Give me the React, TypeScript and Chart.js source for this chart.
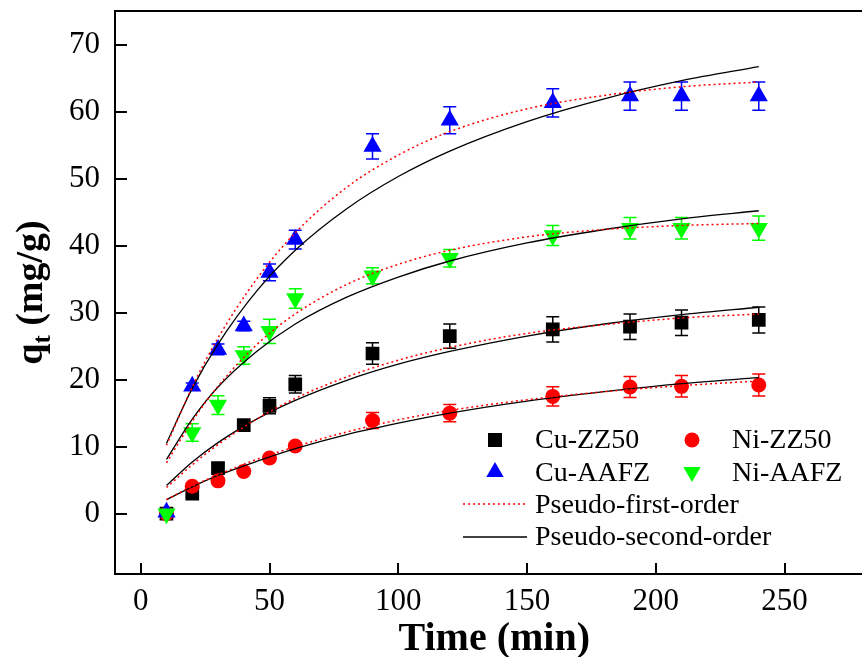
import React, { useEffect, useRef } from 'react';
import { Chart, registerables } from 'chart.js';

Chart.register(...registerables);

// Experimental data (time in min, qt in mg/g)
const TIME = [10, 20, 30, 40, 50, 60, 90, 120, 160, 190, 210, 240];
const CU_ZZ50 = [0, 3.0, 6.8, 13.2, 16.1, 19.3, 23.9, 26.5, 27.5, 27.9, 28.5, 28.9];
const CU_ZZ50_ERR = [0, 0.5, 0.6, 0.6, 1.2, 1.3, 1.6, 1.8, 1.9, 1.9, 1.9, 1.95];
const NI_ZZ50 = [0, 4.1, 4.9, 6.3, 8.3, 10.1, 13.9, 15.0, 17.5, 18.9, 19.0, 19.2];
const NI_ZZ50_ERR = [0, 0.4, 0.4, 0.4, 0.5, 0.5, 1.2, 1.3, 1.45, 1.55, 1.6, 1.65];
const CU_AAFZ = [0.2, 19.0, 24.5, 28.0, 36.0, 40.9, 54.8, 58.7, 61.3, 62.3, 62.3, 62.3];
const CU_AAFZ_ERR = [0, 0.5, 0.8, 0.7, 1.25, 1.4, 1.9, 2.0, 2.1, 2.1, 2.1, 2.1];
const NI_AAFZ = [0, 12.1, 16.2, 23.6, 27.2, 32.1, 35.5, 38.1, 41.5, 42.6, 42.6, 42.6];
const NI_AAFZ_ERR = [0, 1.3, 1.4, 1.3, 1.8, 1.45, 1.2, 1.3, 1.5, 1.6, 1.6, 1.8];

// Fitted curves
const FIT_TIME = [10, 20, 30, 45, 60, 80, 100, 120, 150, 180, 210, 240];
const CU_ZZ50_PFO = [3.9, 7.3, 10.3, 14.1, 17.2, 20.4, 22.9, 24.8, 26.9, 28.2, 29.2, 29.8];
const CU_ZZ50_PSO = [4.2, 7.7, 10.6, 14.1, 16.9, 19.9, 22.3, 24.2, 26.5, 28.3, 29.7, 30.8];
const NI_ZZ50_PFO = [2.1, 4.1, 5.8, 8.1, 10.0, 12.2, 14.0, 15.4, 17.0, 18.2, 19.1, 19.8];
const NI_ZZ50_PSO = [2.1, 4.0, 5.7, 7.8, 9.7, 11.8, 13.5, 15.0, 16.8, 18.2, 19.4, 20.3];
const CU_AAFZ_PFO = [10.2, 18.9, 26.2, 35.0, 41.9, 48.7, 53.5, 57.0, 60.4, 62.4, 63.7, 64.4];
const CU_AAFZ_PSO = [10.5, 18.7, 25.3, 33.2, 39.3, 45.5, 50.3, 54.1, 58.5, 61.9, 64.6, 66.7];
const NI_AAFZ_PFO = [7.6, 13.8, 19.0, 25.2, 29.8, 34.2, 37.2, 39.3, 41.3, 42.4, 43.0, 43.3];
const NI_AAFZ_PSO = [8.1, 14.1, 18.9, 24.2, 28.3, 32.3, 35.3, 37.7, 40.4, 42.4, 44.0, 45.2];

const X_TICKS = [0, 50, 100, 150, 200, 250];
const Y_TICKS = [0, 10, 20, 30, 40, 50, 60, 70];

const SERIES_NAMES = ['Cu-ZZ50', 'Ni-ZZ50', 'Cu-AAFZ', 'Ni-AAFZ'];
const FIT_NAMES = ['Pseudo-first-order', 'Pseudo-second-order'];
const X_TITLE = 'Time (min)';

const BLACK = '#000000';
const RED = '#FF0000';
const BLUE = '#0000FF';
const GREEN = '#00FF00';
const SERIF = '"Liberation Serif", "Times New Roman", serif';

const pts = (xs: number[], ys: number[]) => xs.map((x, i) => ({ x, y: ys[i] }));

const ERR_SETS = [
  { y: CU_ZZ50, e: CU_ZZ50_ERR, c: BLACK },
  { y: NI_ZZ50, e: NI_ZZ50_ERR, c: RED },
  { y: CU_AAFZ, e: CU_AAFZ_ERR, c: BLUE },
  { y: NI_AAFZ, e: NI_AAFZ_ERR, c: GREEN },
];

const decorPlugin = {
  id: 'decor',
  beforeDatasetsDraw(chart: any) {
    const { ctx, scales } = chart;
    const xs = scales.x;
    const ys = scales.y;
    ctx.save();
    ctx.lineWidth = 1.5;
    ERR_SETS.forEach((s) => {
      ctx.strokeStyle = s.c;
      TIME.forEach((t, i) => {
        const e = s.e[i];
        if (!e) return;
        const px = xs.getPixelForValue(t);
        const y1 = ys.getPixelForValue(s.y[i] + e);
        const y2 = ys.getPixelForValue(s.y[i] - e);
        ctx.beginPath();
        ctx.moveTo(px, y1);
        ctx.lineTo(px, y2);
        ctx.moveTo(px - 6.5, y1);
        ctx.lineTo(px + 6.5, y1);
        ctx.moveTo(px - 6.5, y2);
        ctx.lineTo(px + 6.5, y2);
        ctx.stroke();
      });
    });
    ctx.restore();
  },
  afterDraw(chart: any) {
    const { ctx, scales, chartArea } = chart;
    const xs = scales.x;
    const ys = scales.y;
    const { left, right, top, bottom } = chartArea;
    ctx.save();
    // axes frame
    ctx.strokeStyle = BLACK;
    ctx.lineWidth = 2;
    ctx.beginPath();
    ctx.moveTo(left, top);
    ctx.lineTo(right, top);
    ctx.moveTo(left, top - 1);
    ctx.lineTo(left, bottom + 1);
    ctx.moveTo(left - 1, bottom);
    ctx.lineTo(right, bottom);
    ctx.stroke();
    // inward ticks
    ctx.beginPath();
    X_TICKS.forEach((v) => {
      const px = Math.round(xs.getPixelForValue(v));
      ctx.moveTo(px, bottom);
      ctx.lineTo(px, bottom - 11);
    });
    Y_TICKS.forEach((v) => {
      const py = Math.round(ys.getPixelForValue(v));
      ctx.moveTo(left, py);
      ctx.lineTo(left + 12, py);
    });
    ctx.stroke();

    // x title
    ctx.fillStyle = BLACK;
    ctx.font = `bold 40px ${SERIF}`;
    ctx.textAlign = 'center';
    ctx.textBaseline = 'alphabetic';
    ctx.fillText(X_TITLE, (left + right) / 2 + 2, 650);

    // y title with subscript
    ctx.save();
    ctx.translate(42, (top + bottom) / 2);
    ctx.rotate(-Math.PI / 2);
    ctx.textAlign = 'left';
    const bigFont = `bold 38px ${SERIF}`;
    const subFont = `bold 25px ${SERIF}`;
    ctx.font = bigFont;
    const wq = ctx.measureText('q').width;
    const wRest = ctx.measureText(' (mg/g)').width;
    ctx.font = subFont;
    const wt = ctx.measureText('t').width;
    const total = wq + wt + wRest;
    let x0 = -total / 2;
    ctx.font = bigFont;
    ctx.fillText('q', x0, 0);
    x0 += wq;
    ctx.font = subFont;
    ctx.fillText('t', x0, 8);
    x0 += wt;
    ctx.font = bigFont;
    ctx.fillText(' (mg/g)', x0, 0);
    ctx.restore();

    // legend
    ctx.font = `28px ${SERIF}`;
    ctx.textAlign = 'left';
    ctx.textBaseline = 'alphabetic';
    ctx.fillStyle = BLACK;
    ctx.fillRect(495 - 7, 440 - 7, 14, 14);
    ctx.fillText(SERIES_NAMES[0], 535, 448);
    ctx.fillStyle = RED;
    ctx.beginPath();
    ctx.arc(692, 440, 7.5, 0, Math.PI * 2);
    ctx.fill();
    ctx.fillStyle = BLACK;
    ctx.fillText(SERIES_NAMES[1], 732, 448);
    ctx.fillStyle = BLUE;
    ctx.beginPath();
    ctx.moveTo(495, 462);
    ctx.lineTo(503.7, 477);
    ctx.lineTo(486.3, 477);
    ctx.closePath();
    ctx.fill();
    ctx.fillStyle = BLACK;
    ctx.fillText(SERIES_NAMES[2], 535, 481);
    ctx.fillStyle = GREEN;
    ctx.beginPath();
    ctx.moveTo(692, 482);
    ctx.lineTo(700.7, 467);
    ctx.lineTo(683.3, 467);
    ctx.closePath();
    ctx.fill();
    ctx.fillStyle = BLACK;
    ctx.fillText(SERIES_NAMES[3], 732, 481);
    ctx.lineWidth = 1.3;
    ctx.strokeStyle = RED;
    ctx.setLineDash([2, 3]);
    ctx.beginPath();
    ctx.moveTo(463, 504);
    ctx.lineTo(527, 504);
    ctx.stroke();
    ctx.setLineDash([]);
    ctx.strokeStyle = BLACK;
    ctx.beginPath();
    ctx.moveTo(463, 537);
    ctx.lineTo(527, 537);
    ctx.stroke();
    ctx.fillText(FIT_NAMES[0], 535, 513);
    ctx.fillText(FIT_NAMES[1], 535, 545);
    ctx.restore();
  },
};

function lineSet(data: number[], color: string, dotted: boolean) {
  return {
    type: 'line',
    data: pts(FIT_TIME, data),
    borderColor: color,
    borderWidth: dotted ? 1.5 : 1.3,
    borderDash: dotted ? [2, 3] : [],
    pointRadius: 0,
    fill: false,
    cubicInterpolationMode: 'monotone',
    showLine: true,
  };
}

function pointSet(data: number[], color: string, style: string, radius: number, rotation = 0) {
  return {
    type: 'scatter',
    data: pts(TIME, data),
    backgroundColor: color,
    borderColor: color,
    borderWidth: 0,
    pointStyle: style,
    pointRadius: radius,
    rotation,
    showLine: false,
  };
}

export default function App() {
  const ref = useRef<HTMLCanvasElement | null>(null);
  useEffect(() => {
    document.body.style.margin = '0';
    if (!ref.current) return;
    const chart = new Chart(ref.current, {
      type: 'scatter',
      data: {
        datasets: [
          lineSet(CU_AAFZ_PFO, RED, true),
          lineSet(NI_AAFZ_PFO, RED, true),
          lineSet(CU_ZZ50_PFO, RED, true),
          lineSet(NI_ZZ50_PFO, RED, true),
          lineSet(CU_AAFZ_PSO, BLACK, false),
          lineSet(NI_AAFZ_PSO, BLACK, false),
          lineSet(CU_ZZ50_PSO, BLACK, false),
          lineSet(NI_ZZ50_PSO, BLACK, false),
          pointSet(NI_AAFZ, GREEN, 'triangle', 10.5, 180),
          pointSet(CU_AAFZ, BLUE, 'triangle', 10.5),
          pointSet(NI_ZZ50, RED, 'circle', 7.5),
          pointSet(CU_ZZ50, BLACK, 'rect', 9.7),
        ] as any,
      },
      options: {
        responsive: false,
        animation: false,
        events: [],
        layout: { padding: { top: 11, right: 10, left: 0, bottom: 0 } },
        plugins: { legend: { display: false }, tooltip: { enabled: false } },
        scales: {
          x: {
            type: 'linear',
            min: -10,
            max: 283,
            grid: { display: false, drawTicks: false },
            border: { display: false },
            ticks: { font: { family: SERIF, size: 31 }, color: BLACK, padding: 9, maxRotation: 0 },
            afterBuildTicks: (s: any) => {
              s.ticks = X_TICKS.map((v) => ({ value: v }));
            },
            afterFit: (s: any) => {
              s.height = 83;
              s.paddingLeft = 0;
              s.paddingRight = 0;
              s.paddingTop = 0;
              s.paddingBottom = 0;
            },
          },
          y: {
            type: 'linear',
            min: -9,
            max: 75,
            grid: { display: false, drawTicks: false },
            border: { display: false },
            ticks: { font: { family: SERIF, size: 31 }, color: BLACK, padding: 15 },
            afterBuildTicks: (s: any) => {
              s.ticks = Y_TICKS.map((v) => ({ value: v }));
            },
            afterFit: (s: any) => {
              s.width = 115;
              s.paddingLeft = 0;
              s.paddingRight = 0;
              s.paddingTop = 0;
              s.paddingBottom = 0;
            },
          },
        },
      } as any,
      plugins: [decorPlugin],
    });
    return () => chart.destroy();
  }, []);
  return (
    <div style={{ width: 862, height: 657, overflow: 'hidden', position: 'relative', background: '#fff' }}>
      <canvas ref={ref} width={880} height={657} style={{ display: 'block' }} />
    </div>
  );
}
